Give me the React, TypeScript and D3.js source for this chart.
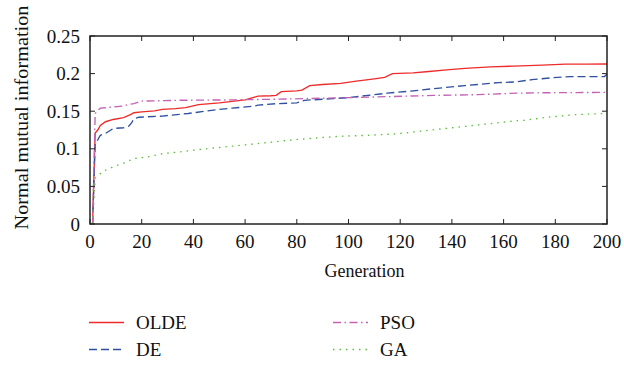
import React from "react";
import * as d3 from "d3";

const xTicks = [0, 20, 40, 60, 80, 100, 120, 140, 160, 180, 200];
const yTicks = [0, 0.05, 0.1, 0.15, 0.2, 0.25];
const yTickLabels = ["0", "0.05", "0.1", "0.15", "0.2", "0.25"];

const oldeGen = [1, 2, 3, 4, 6, 9, 13, 15, 16, 17, 20, 25, 28, 33, 37, 42, 50, 55, 60, 63, 65, 70, 72, 74, 80, 82, 85, 90, 97, 103, 110, 114, 117, 125, 130, 138, 145, 155, 164, 175, 184, 192, 200];
const oldeVal = [0, 0.121, 0.125, 0.131, 0.136, 0.139, 0.1415, 0.1445, 0.146, 0.148, 0.149, 0.1505, 0.1525, 0.1535, 0.1548, 0.1587, 0.161, 0.163, 0.165, 0.168, 0.17, 0.1705, 0.171, 0.176, 0.177, 0.178, 0.184, 0.1855, 0.187, 0.19, 0.193, 0.195, 0.2, 0.201, 0.2025, 0.205, 0.207, 0.209, 0.21, 0.2113, 0.2126, 0.2127, 0.2128];

const deGen = [1, 2, 3, 4, 6, 9, 13, 15, 16, 17, 19, 28, 38, 49, 55, 63, 65, 72, 80, 83, 94, 100, 115, 125, 133, 145, 158, 165, 171, 179, 186, 199, 200];
const deVal = [0, 0.107, 0.112, 0.118, 0.1205, 0.127, 0.128, 0.13, 0.134, 0.14, 0.142, 0.1435, 0.147, 0.152, 0.154, 0.1565, 0.158, 0.16, 0.161, 0.1645, 0.1667, 0.168, 0.174, 0.177, 0.18, 0.184, 0.188, 0.189, 0.192, 0.1945, 0.196, 0.196, 0.199];

const psoGen = [1, 2, 3, 4, 9, 13, 15, 17, 20, 28, 34, 54, 73, 100, 133, 150, 165, 175, 200];
const psoVal = [0, 0.147, 0.151, 0.154, 0.1555, 0.157, 0.159, 0.16, 0.1635, 0.164, 0.1645, 0.165, 0.166, 0.168, 0.171, 0.172, 0.174, 0.1745, 0.175];

const gaGen = [1, 2, 4, 6, 9, 13, 17, 22, 28, 35, 42, 55, 68, 81, 88, 97, 108, 119, 132, 151, 164, 168, 177, 188, 200];
const gaVal = [0, 0.061, 0.067, 0.0716, 0.076, 0.081, 0.087, 0.089, 0.0935, 0.096, 0.099, 0.1035, 0.108, 0.1127, 0.1145, 0.1167, 0.118, 0.12, 0.125, 0.132, 0.137, 0.138, 0.142, 0.1455, 0.147];

const seriesNames = ["OLDE", "DE", "PSO", "GA"];

export default function App() {
  const W = 624, H = 365;
  const left = 90, right = 607, top = 36, bottom = 224;
  const x = d3.scaleLinear().domain([0, 200]).range([left, right]);
  const y = d3.scaleLinear().domain([0, 0.25]).range([bottom, top]);

  const series = [
    { name: seriesNames[0], gen: oldeGen, val: oldeVal, color: "#ee2b2b", dash: "none" },
    { name: seriesNames[1], gen: deGen, val: deVal, color: "#2f4fa0", dash: "8,4" },
    { name: seriesNames[2], gen: psoGen, val: psoVal, color: "#c462b5", dash: "8,3.5,1.5,3.5" },
    { name: seriesNames[3], gen: gaGen, val: gaVal, color: "#5cc23c", dash: "1.5,5" },
  ];

  const line = d3.line<[number, number]>().x(d => x(d[0])).y(d => y(d[1]));
  const tl = 5;

  const legendPos = [
    { lx: 89, ly: 322.5 },
    { lx: 89, ly: 349.5 },
    { lx: 333, ly: 322.5 },
    { lx: 333, ly: 349.5 },
  ];

  return (
    <svg width={W} height={H} style={{ position: "absolute", left: 0, top: 0, background: "#fff" }}>
      <rect x={0} y={0} width={W} height={H} fill="#fff" />
      {series.map(s => (
        <path
          key={s.name}
          d={line(s.gen.map((g, i) => [g, s.val[i]] as [number, number])) || ""}
          fill="none"
          stroke={s.color}
          strokeWidth={1.35}
          strokeDasharray={s.dash}
        />
      ))}
      <rect x={left} y={top} width={right - left} height={bottom - top} fill="none" stroke="#222" strokeWidth={1.5} />
      <g style={{ fontFamily: '"Liberation Serif"' }} fill="#111">
        {xTicks.map(t => (
          <g key={"xt" + t}>
            <line x1={x(t)} x2={x(t)} y1={bottom} y2={bottom - tl} stroke="#222" strokeWidth={1} />
            <line x1={x(t)} x2={x(t)} y1={top} y2={top + tl} stroke="#222" strokeWidth={1} />
            <text x={x(t)} y={248} textAnchor="middle" fontSize={19}>{t}</text>
          </g>
        ))}
        {yTicks.map((t, i) => (
          <g key={"yt" + t}>
            <line x1={left} x2={left + tl} y1={y(t)} y2={y(t)} stroke="#222" strokeWidth={1} />
            <line x1={right} x2={right - tl} y1={y(t)} y2={y(t)} stroke="#222" strokeWidth={1} />
            <text x={80} y={y(t) + 6.5} textAnchor="end" fontSize={19}>{yTickLabels[i]}</text>
          </g>
        ))}
        <text x={364.5} y={277} textAnchor="middle" fontSize={18}>Generation</text>
        <text
          transform={`translate(28, ${(5 + 230) / 2}) rotate(-90)`}
          textAnchor="middle"
          fontSize={19}
          textLength={224}
          lengthAdjust="spacingAndGlyphs"
        >Normal mutual information</text>
        {series.map((s, i) => (
          <g key={"lg" + s.name}>
            <line x1={legendPos[i].lx} x2={legendPos[i].lx + 35} y1={legendPos[i].ly} y2={legendPos[i].ly} stroke={s.color} strokeWidth={1.35} strokeDasharray={s.dash} />
            <text x={legendPos[i].lx + 47} y={legendPos[i].ly + 6.5} fontSize={19}>{s.name}</text>
          </g>
        ))}
      </g>
    </svg>
  );
}
